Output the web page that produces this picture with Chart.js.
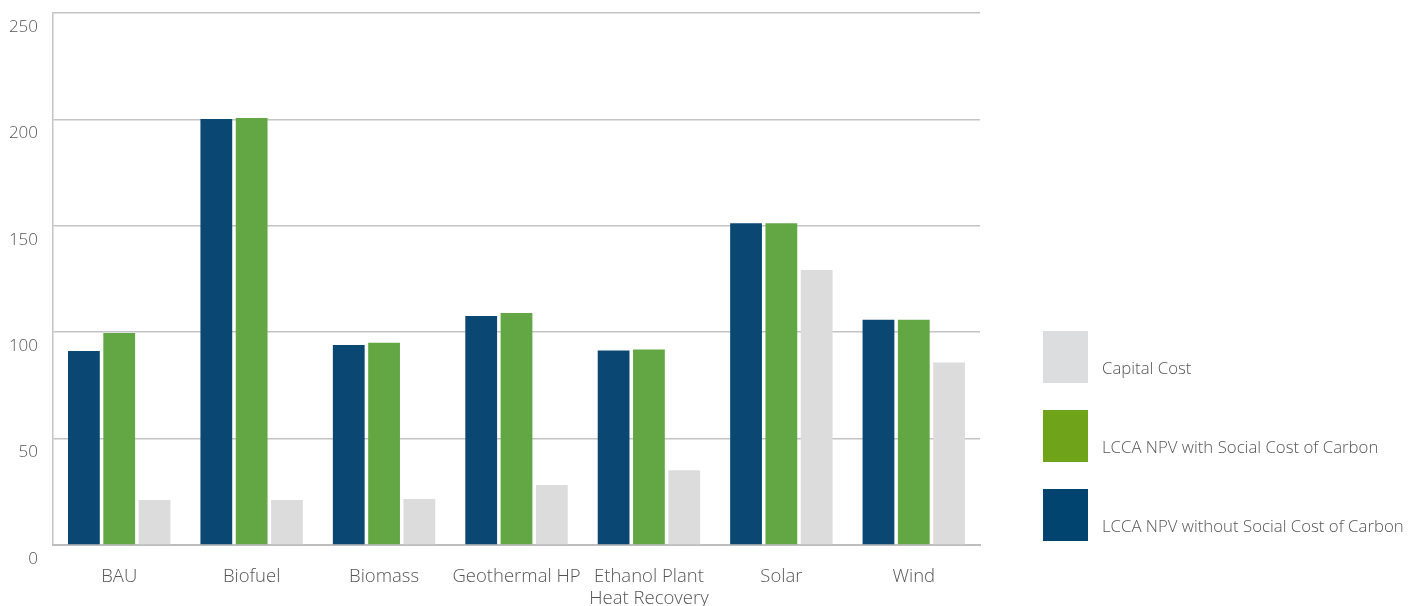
<!DOCTYPE html>
<html>
<head>
<meta charset="utf-8">
<script src="https://cdn.jsdelivr.net/npm/chart.js@4.4.0/dist/chart.umd.min.js"></script>
<style>
html,body{margin:0;padding:0;background:#fff;}
#wrap{position:relative;width:1418px;height:606px;}
</style>
</head>
<body>
<div id="wrap"><canvas id="c" width="1418" height="606"></canvas></div>
<script>
const categories = ['BAU', 'Biofuel', 'Biomass', 'Geothermal HP', ['Ethanol Plant', 'Heat Recovery'], 'Solar', 'Wind'];
const npvWithout = [91.2, 200.2, 94.0, 107.6, 91.4, 151.2, 105.9];
const npvWith = [99.6, 200.7, 95.0, 109.0, 91.9, 151.2, 105.9];
const capitalCost = [21.1, 21.1, 21.6, 28.2, 35.1, 129.2, 85.8];
const yTicks = [0, 50, 100, 150, 200, 250];

const seriesNames = ['LCCA NPV without Social Cost of Carbon', 'LCCA NPV with Social Cost of Carbon', 'Capital Cost'];
const barColors = ['#0a4773', '#62a744', '#dcdcdc'];
const legendColors = ['#00446f', '#6fa41a', '#dcdddf'];

const FONT = "'Open Sans', 'DejaVu Sans', sans-serif";

const legendPlugin = {
  id: 'sideLegend',
  afterDraw(chart) {
    const ctx = chart.ctx;
    ctx.save();
    const order = [2, 1, 0];
    const boxX = 1043, boxW = 45, boxH = 52;
    const tops = [331, 410, 489];
    order.forEach((di, i) => {
      ctx.fillStyle = legendColors[di];
      ctx.fillRect(boxX, tops[i], boxW, boxH);
      ctx.fillStyle = '#555555';
      ctx.font = "300 16.8px " + FONT;
      ctx.textBaseline = 'middle';
      ctx.textAlign = 'left';
      ctx.fillText(seriesNames[di], 1102, tops[i] + 38);
    });
    ctx.restore();
  }
};

new Chart(document.getElementById('c'), {
  type: 'bar',
  data: {
    labels: categories,
    datasets: seriesNames.map((n, i) => ({
      label: n,
      data: [npvWithout, npvWith, capitalCost][i],
      backgroundColor: barColors[i],
      borderWidth: 0,
      categoryPercentage: 0.80,
      barPercentage: 0.90
    }))
  },
  options: {
    responsive: false,
    animation: false,
    devicePixelRatio: 1,
    layout: { padding: { top: 13, right: 438, left: 0, bottom: 0 } },
    plugins: { legend: { display: false }, tooltip: { enabled: false } },
    scales: {
      x: {
        afterFit(s) { s.height = 61; s.paddingLeft = 0; s.paddingRight = 0; },
        grid: { display: false, drawTicks: false },
        border: { display: true, color: '#bdbdbd', width: 2 },
        ticks: { padding: 21, color: '#555555', font: { family: FONT, size: 18.5, weight: 300, lineHeight: 1.17 }, maxRotation: 0, autoSkip: false }
      },
      y: {
        min: 0, max: 250,
        afterFit(s) { s.width = 53; s.paddingTop = 0; s.paddingBottom = 0; },
        afterBuildTicks(s) { s.ticks = yTicks.map(v => ({ value: v })); },
        grid: { color: '#c4c4c4', lineWidth: 1.5, drawTicks: false },
        border: { display: true, color: '#c4c4c4', width: 1.5 },
        ticks: { padding: 15, labelOffset: 14, color: '#555555', font: { family: FONT, size: 17, weight: 300 } }
      }
    }
  },
  plugins: [legendPlugin]
});
</script>
</body>
</html>
